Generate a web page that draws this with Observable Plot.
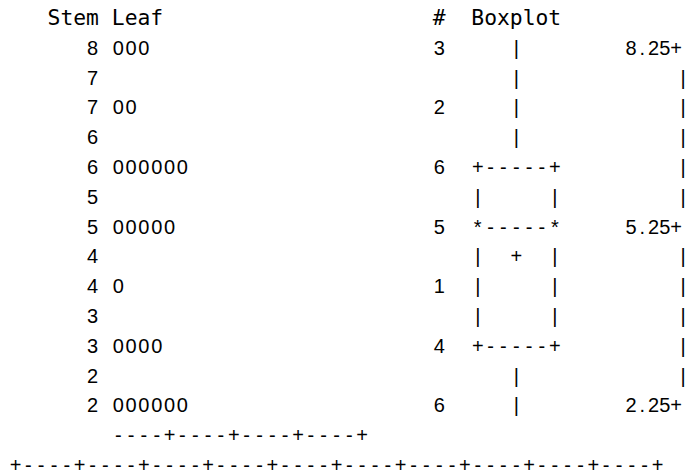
<!DOCTYPE html>
<html>
<head>
<meta charset="utf-8">
<script src="https://cdn.jsdelivr.net/npm/d3@7"></script>
<script src="https://cdn.jsdelivr.net/npm/@observablehq/plot@0.6"></script>
<style>
  html, body { margin: 0; padding: 0; background: #fff; }
  svg text, svg tspan { white-space: pre; }
</style>
</head>
<body>
<div id="chart"></div>
<script>
// ---- data ----
const stems = [8, 7, 7, 6, 6, 5, 5, 4, 4, 3, 3, 2, 2];
const leaves = ["000", "", "00", "", "000000", "", "00000", "", "0", "", "0000", "", "000000"];
const counts = [3, null, 2, null, 6, null, 5, null, 1, null, 4, null, 6];
const boxplot = ["   |", "   |", "   |", "   |", "+-----+", "|     |", "*-----*", "|  +  |", "|     |", "|     |", "+-----+", "   |", "   |"];
const axisLabels = ["8.25+", "5.25+", "2.25+"];
const axisLabelRows = [1, 7, 13];
const headerStemLeaf = "Stem Leaf";
const headerCount = "#";
const headerBoxplot = "Boxplot";
const leafRuler = "----+----+----+----+";
const xAxisLine = "+----+----+----+----+----+----+----+----+----+----+";

// ---- layout on a character grid (x = column centre, y = row) ----
const nRows = stems.length;
const cells = [];
function addLine(str, row, col, step = 1) {
  Array.from(str).forEach((ch, i) => {
    if (ch !== " ") cells.push({row, col: col + i * step, ch});
  });
}
stems.forEach((s, i) => {
  const row = i + 1;
  addLine(String(s), row, 6);
  addLine(leaves[i], row, 8);
  if (counts[i] != null) addLine(String(counts[i]), row, 33);
  addLine(boxplot[i], row, 36);
  const k = axisLabelRows.indexOf(row);
  if (k >= 0) {
    const lab = axisLabels[k];
    const step = 0.876;
    addLine(lab, row, 51.45 - (lab.length - 1) * step, step);
  } else {
    addLine("|", row, 52);
  }
});
addLine(leafRuler, nRows + 1, 8);
addLine(xAxisLine, nRows + 2, 0);

const headers = [
  {row: 0, col: 2.5, text: headerStemLeaf},
  {row: 0, col: 32.5, text: headerCount},
  {row: 0, col: 35.5, text: headerBoxplot}
];

const chart = Plot.plot({
  width: 690,
  height: 471,
  marginLeft: 15,
  marginRight: 690 - 15 - 52 * 12.84,
  marginTop: 18,
  marginBottom: 6,
  x: {domain: [0, 52], axis: null},
  y: {domain: [0, nRows + 2], reverse: true, axis: null},
  style: {background: "#fff", color: "#000"},
  marks: [
    Plot.text(headers, {x: "col", y: "row", text: "text", textAnchor: "start",
      fontFamily: "'DejaVu Sans Mono', monospace", fontSize: 21.33, fill: "#000"}),
    Plot.text(cells, {x: "col", y: "row", text: "ch", textAnchor: "middle",
      fontFamily: "'Liberation Sans', Arial, sans-serif", fontSize: 20, fill: "#000"})
  ]
});
document.getElementById("chart").appendChild(chart);
</script>
</body>
</html>
